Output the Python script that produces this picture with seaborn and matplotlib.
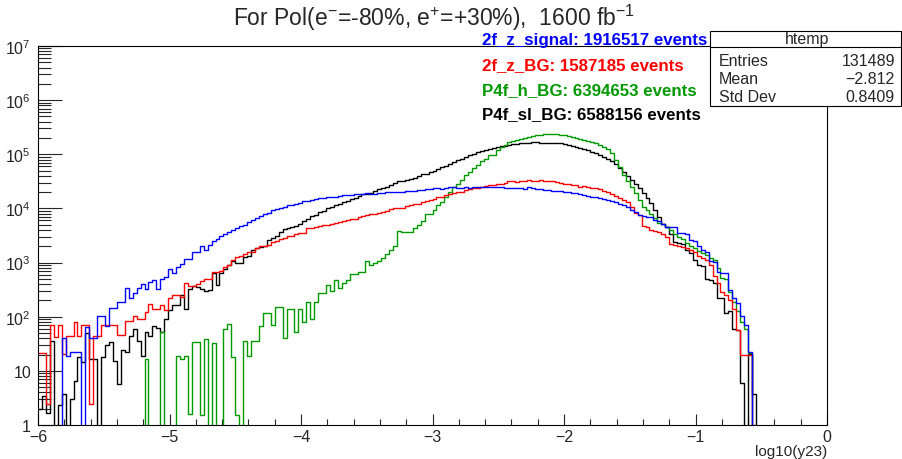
import numpy as np
import pandas as pd
import seaborn as sns
import matplotlib
matplotlib.use("Agg")
import matplotlib.pyplot as plt
from matplotlib.patches import Rectangle
from matplotlib.lines import Line2D
from matplotlib.ticker import FixedLocator, MultipleLocator, LogLocator, NullFormatter

N = None
# 200 bins from -6 to 0, heights as log10(entries); None = empty bin
n_bins = 200
x_range = (-6.0, 0.0)

signal_log = [
    N, N, N, N, N, N, 1.60, 1.28, 1.35, 1.35,
    1.35, N, 1.81, 1.60, 1.60, 2.01, 2.01, 1.83, 2.16, 2.16,
    2.27, 2.27, 2.53, 2.35, 2.44, 2.53, 2.61, 2.51, 2.64, 2.67,
    2.51, 2.70, 2.73, 2.88, 2.81, 2.92, 2.98, 3.07, 3.07, 3.19,
    3.19, 3.30, 3.24, 3.33, 3.40, 3.44, 3.49, 3.52, 3.57, 3.60,
    3.64, 3.68, 3.70, 3.75, 3.79, 3.83, 3.86, 3.89, 3.91, 3.97,
    3.99, 4.00, 4.03, 4.07, 4.07, 4.09, 4.10, 4.14, 4.14, 4.15,
    4.17, 4.19, 4.19, 4.22, 4.21, 4.22, 4.23, 4.25, 4.24, 4.25,
    4.26, 4.26, 4.27, 4.28, 4.27, 4.27, 4.29, 4.29, 4.30, 4.30,
    4.31, 4.31, 4.31, 4.32, 4.32, 4.33, 4.34, 4.34, 4.35, 4.36,
    4.37, 4.38, 4.36, 4.38, 4.40, 4.39, 4.38, 4.37, 4.40, 4.37,
    4.39, 4.40, 4.40, 4.40, 4.39, 4.40, 4.40, 4.39, 4.38, 4.37,
    4.38, 4.37, 4.38, 4.36, 4.40, 4.37, 4.36, 4.35, 4.34, 4.34,
    4.33, 4.33, 4.32, 4.31, 4.30, 4.29, 4.28, 4.26, 4.25, 4.23,
    4.22, 4.21, 4.19, 4.17, 4.15, 4.13, 4.12, 4.09, 4.06, 4.03,
    3.98, 3.93, 3.88, 3.86, 3.85, 3.85, 3.78, 3.76, 3.72, 3.66,
    3.66, 3.66, 3.54, 3.54, 3.52, 3.41, 3.40, 3.30, 3.23, 3.20,
    3.02, 3.01, 2.82, 2.80, 2.80, 2.50, 2.35, 2.25, 2.02, 1.85,
    1.35, N, N, N, N, N, N, N, N, N,
    N, N, N, N, N, N, N, N, N, N,
]

zbg_log = [
    1.33, 1.33, 0.39, 1.84, 1.62, 1.84, 1.31, 1.65, 1.65, 1.91,
    1.65, 1.84, 1.84, 0.39, 1.65, 1.65, 1.84, 1.84, 1.84, 1.84,
    1.67, 1.67, 1.93, 1.93, 2.02, 1.95, 1.95, 2.09, 2.24, 2.15,
    2.15, 2.21, 2.12, 2.35, 2.40, 2.40, 2.37, 2.62, 2.57, 2.57,
    2.60, 2.66, 2.70, 2.69, 2.83, 2.83, 2.84, 2.92, 2.95, 3.04,
    3.10, 3.12, 3.16, 3.20, 3.20, 3.27, 3.31, 3.31, 3.32, 3.38,
    3.40, 3.44, 3.45, 3.49, 3.50, 3.52, 3.54, 3.55, 3.63, 3.64,
    3.66, 3.67, 3.69, 3.70, 3.72, 3.73, 3.75, 3.76, 3.78, 3.80,
    3.81, 3.84, 3.86, 3.88, 3.89, 3.89, 3.91, 3.93, 3.96, 3.99,
    4.01, 4.00, 4.00, 4.05, 4.07, 4.09, 4.08, 4.12, 4.14, 4.15,
    4.18, 4.21, 4.22, 4.24, 4.27, 4.28, 4.30, 4.31, 4.34, 4.35,
    4.37, 4.38, 4.40, 4.42, 4.43, 4.44, 4.45, 4.46, 4.47, 4.51,
    4.50, 4.49, 4.51, 4.51, 4.53, 4.50, 4.51, 4.52, 4.50, 4.50,
    4.50, 4.49, 4.47, 4.46, 4.46, 4.44, 4.43, 4.40, 4.41, 4.39,
    4.38, 4.37, 4.35, 4.33, 4.30, 4.27, 4.23, 4.20, 4.16, 4.12,
    4.02, 3.92, 3.87, 3.67, 3.65, 3.61, 3.58, 3.56, 3.52, 3.48,
    3.35, 3.32, 3.30, 3.28, 3.26, 3.23, 3.19, 3.12, 3.08, 3.05,
    2.95, 2.75, 2.62, 2.45, 2.40, 2.30, 2.15, 1.75, 1.30, 1.30,
    1.30, 0.00, N, N, N, N, N, N, N, N,
    N, N, N, N, N, N, N, N, N, N,
]

h_log = [
    N, N, N, N, N, N, N, N, N, N,
    N, N, N, N, N, N, N, N, N, N,
    N, N, N, N, N, N, N, 1.22, N, N,
    N, 1.72, N, N, N, 1.28, 1.22, 1.28, 0.20, 1.53,
    1.53, 0.19, 1.58, N, 1.52, N, N, 1.78, 1.87, 1.25,
    0.19, N, 1.56, 1.28, 1.56, 1.56, 1.83, 2.07, 2.07, 1.84,
    2.18, 2.18, 1.60, 2.15, 2.15, 1.72, 2.15, 1.90, 2.28, 1.96,
    2.28, 2.43, 2.43, 2.58, 2.48, 2.67, 2.53, 2.63, 2.67, 2.78,
    2.79, 2.82, 2.82, 3.02, 2.96, 3.00, 3.02, 3.09, 3.15, 3.23,
    3.30, 3.58, 3.56, 3.57, 3.57, 3.63, 3.69, 3.77, 3.89, 3.90,
    3.97, 4.07, 4.12, 4.22, 4.30, 4.40, 4.46, 4.52, 4.62, 4.68,
    4.75, 4.80, 4.88, 4.91, 4.98, 4.99, 5.08, 5.14, 5.17, 5.22,
    5.25, 5.27, 5.28, 5.30, 5.32, 5.33, 5.35, 5.36, 5.37, 5.37,
    5.37, 5.38, 5.36, 5.35, 5.33, 5.32, 5.31, 5.29, 5.27, 5.25,
    5.23, 5.20, 5.17, 5.14, 5.10, 5.02, 4.90, 4.76, 4.62, 4.50,
    4.40, 4.28, 4.15, 4.02, 3.98, 3.90, 3.82, 3.74, 3.71, 3.66,
    3.60, 3.52, 3.47, 3.44, 3.36, 3.30, 3.26, 3.22, 3.17, 3.14,
    3.08, 3.04, 2.90, 2.72, 2.70, 2.45, 2.28, 2.10, 1.90, 1.78,
    1.33, N, N, N, N, N, N, N, N, N,
    N, N, N, N, N, N, N, N, N, N,
]

sl_log = [
    0.30, 0.54, 0.23, 1.56, N, 0.37, 0.57, N, 0.48, 0.82,
    1.25, 1.16, 1.69, 1.22, 1.21, N, 1.25, 1.47, 1.53, 1.19,
    0.76, 1.38, 1.35, 1.65, 1.77, 1.56, 1.28, 1.72, 1.64, 1.83,
    1.79, 1.72, 1.96, 2.12, 2.21, 2.22, 2.40, 2.15, 2.52, 2.57,
    2.55, 2.52, 2.47, 2.50, 2.81, 2.58, 2.81, 2.89, 2.95, 3.02,
    2.99, 3.00, 3.10, 3.12, 3.23, 3.27, 3.29, 3.30, 3.41, 3.46,
    3.50, 3.57, 3.62, 3.64, 3.66, 3.68, 3.72, 3.76, 3.81, 3.86,
    3.87, 3.94, 3.96, 4.00, 4.03, 4.06, 4.08, 4.12, 4.14, 4.18,
    4.20, 4.23, 4.26, 4.27, 4.29, 4.33, 4.35, 4.38, 4.40, 4.44,
    4.47, 4.50, 4.51, 4.53, 4.54, 4.57, 4.59, 4.63, 4.64, 4.67,
    4.69, 4.72, 4.76, 4.79, 4.82, 4.86, 4.89, 4.92, 4.95, 4.98,
    5.01, 5.04, 5.06, 5.08, 5.10, 5.12, 5.13, 5.15, 5.16, 5.17,
    5.19, 5.19, 5.20, 5.20, 5.21, 5.22, 5.22, 5.21, 5.21, 5.21,
    5.21, 5.21, 5.20, 5.19, 5.18, 5.16, 5.14, 5.12, 5.10, 5.08,
    5.05, 5.02, 4.98, 4.95, 4.92, 4.87, 4.82, 4.75, 4.68, 4.60,
    4.52, 4.45, 4.38, 4.28, 4.20, 4.10, 3.97, 3.84, 3.72, 3.66,
    3.52, 3.38, 3.36, 3.34, 3.24, 3.18, 3.05, 2.95, 2.93, 2.70,
    2.67, 2.62, 2.35, 2.35, 2.07, 2.10, 1.78, 1.75, 0.78, N,
    1.31, 0.57, N, N, N, N, N, N, N, N,
    N, N, N, N, N, N, N, N, N, N,
]

samples = ["2f_z_signal", "2f_z_BG", "P4f_h_BG", "P4f_sl_BG"]
event_counts = [1916517, 1587185, 6394653, 6588156]
colors = ["#0000ff", "#ff0000", "#009900", "#000000"]
stats_rows = [("Entries", "131489"), ("Mean", "\u22122.812"), ("Std Dev", "0.8409")]
title = r"For Pol(e$^{-}$=-80%, e$^{+}$=+30%),  1600 fb$^{-1}$"


def to_counts(vals):
    return np.array([0.0 if v is None else 10 ** v for v in vals])


edges = np.linspace(x_range[0], x_range[1], n_bins + 1)
centers = 0.5 * (edges[:-1] + edges[1:])
frames = []
for name, vals in zip(samples, [signal_log, zbg_log, h_log, sl_log]):
    frames.append(pd.DataFrame({"x": centers, "w": to_counts(vals), "sample": name}))
df = pd.concat(frames, ignore_index=True)

sns.set_style("ticks")
plt.rcParams["font.family"] = ["Liberation Sans", "DejaVu Sans"]
plt.rcParams["mathtext.fontset"] = "custom"
plt.rcParams["mathtext.rm"] = "Liberation Sans"
plt.rcParams["mathtext.it"] = "Liberation Sans:italic"
plt.rcParams["mathtext.bf"] = "Liberation Sans:bold"

W, H = 902, 460
fig = plt.figure(figsize=(W / 100, H / 100), dpi=100)
ax = fig.add_axes([38 / W, 34 / H, 789 / W, 379 / H])

sns.histplot(data=df, x="x", weights="w", hue="sample", hue_order=samples,
             bins=n_bins, binrange=x_range, element="step", fill=False,
             palette=colors, linewidth=1.0, legend=False, ax=ax)

ax.set_yscale("log")
ax.set_xlim(-6, 0)
ax.set_ylim(1, 1e7)
ax.set_xlabel("")
ax.set_ylabel("")

# ROOT-like axes
ax.xaxis.set_major_locator(MultipleLocator(1))
ax.xaxis.set_minor_locator(MultipleLocator(0.2))
decades = [1, 10, 1e2, 1e3, 1e4, 1e5, 1e6, 1e7]
ax.yaxis.set_major_locator(FixedLocator(decades))
ax.set_yticklabels(["1", "10"] + [r"$10^{%d}$" % k for k in range(2, 8)])
ax.yaxis.set_minor_locator(LogLocator(base=10, subs=range(2, 10)))
ax.yaxis.set_minor_formatter(NullFormatter())
ax.tick_params(axis="x", which="major", direction="in", length=8, width=0.8, labelsize=11.5, pad=3)
ax.tick_params(axis="x", which="minor", direction="in", length=4, width=0.8)
ax.tick_params(axis="y", which="major", direction="in", length=17, width=0.8, labelsize=11.5, pad=5)
ax.tick_params(axis="y", which="minor", direction="in", length=9, width=0.8)
for sp in ax.spines.values():
    sp.set_visible(True)
    sp.set_linewidth(0.8)
    sp.set_color("black")

fig.text(434 / W, 1 - 18 / H, title, ha="center", va="center", fontsize=16.5)
fig.text(827 / W, 1 - 452 / H, "log10(y23)", ha="right", va="center", fontsize=11)

# sample labels
baselines = [45, 70, 95, 119]
for name, n, c, yb in zip(samples, event_counts, colors, baselines):
    fig.text(482 / W, 1 - yb / H, f"{name}: {n} events", color=c,
             fontweight="bold", fontsize=12.2, va="baseline", ha="left", zorder=6)

# stats box
box = Rectangle((710 / W, 1 - 107 / H), 191 / W, 75 / H, transform=fig.transFigure,
                facecolor="white", edgecolor="black", linewidth=0.8, zorder=5)
fig.add_artist(box)
fig.add_artist(Line2D([710 / W, 901 / W], [1 - 48 / H, 1 - 48 / H],
                      transform=fig.transFigure, color="black", linewidth=0.8, zorder=6))
fig.text(807 / W, 1 - 40 / H, "htemp", ha="center", va="center", fontsize=11.5, zorder=7)
for (lab, val), yc in zip(stats_rows, [61, 79, 97]):
    fig.text(719 / W, 1 - yc / H, lab, ha="left", va="center", fontsize=11.5, zorder=7)
    fig.text(895 / W, 1 - yc / H, val, ha="right", va="center", fontsize=11.5, zorder=7)

fig.savefig("out.png", dpi=100)
